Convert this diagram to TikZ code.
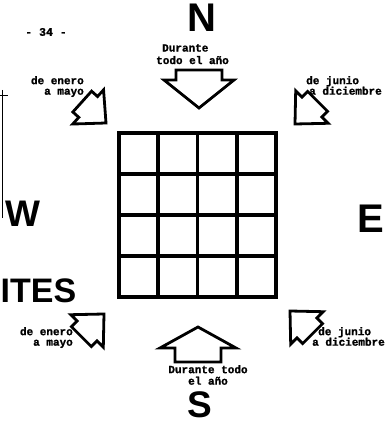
\documentclass[tikz,border=0pt]{standalone}
\usepackage{fontspec}
\setmainfont{Liberation Sans}
\newfontfamily\typefont[FakeBold=1.2]{Liberation Mono Bold}
\tikzset{
  cardinal/.style={font=\bfseries\fontsize{40}{40}\selectfont, inner sep=0pt, anchor=base},
  season/.style={font=\typefont\fontsize{11}{10.5}\selectfont, inner sep=0pt},
  gridline/.style={line width=3.6pt, line cap=rect},
  arrowline/.style={draw, line width=2.8pt, line join=miter, fill=white},
  pics/sunarrow/.style args={#1/#2/#3/#4}{code={
    \draw[arrowline] (0,0) -- (-#1,#2) -- (-#1,#3) -- (-#1-#4,#3)
      -- (-#1-#4,-#3) -- (-#1,-#3) -- (-#1,-#2) -- cycle;
  }},
}
\begin{document}
\begin{tikzpicture}[x=1pt,y=1pt]
  \useasboundingbox (0,0) rectangle (386,421);
  % grid of the plot
  \foreach \i in {0,...,4} {
    \draw[gridline] ({119+\i*39.25},124) -- ({119+\i*39.25},288);
    \draw[gridline] (119,{124+\i*41}) -- (276,{124+\i*41});
  }
  % arrows
  \pic[rotate=-90] at (199,313) {sunarrow=28/35/23/10};
  \pic[rotate=90] at (198,94) {sunarrow=21/38/23/14};
  \pic[rotate=-42] at (106,298) {sunarrow=24/23/14/8};
  \pic[rotate=-135] at (295,297) {sunarrow=24/23/14/8};
  \pic[rotate=45] at (104,107) {sunarrow=24/23/14/8};
  \pic[rotate=135] at (290,110) {sunarrow=24/23/14/8};
  % cardinal points
  \node[cardinal] (N) at (201.5,389) {N};
  \node[cardinal] (E) at (370.5,188) {E};
  \node[cardinal, font=\bfseries\fontsize{37}{37}\selectfont] (W) at (22.5,194) {W};
  \node[cardinal, font=\bfseries\fontsize{37}{37}\selectfont] (S) at (200,3.5) {S};
  \node[cardinal, anchor=base west, font=\bfseries\fontsize{34}{34}\selectfont] (ites) at (0.5,118) {ITES};
  % labels
  \node[season, font=\typefont\fontsize{11.5}{11}\selectfont] (page) at (46,389) {- 34 -};
  \node[season, align=left, anchor=north west, font=\typefont\fontsize{11}{12.5}\selectfont]
    (durN) at (156,377) {\hspace*{6pt}Durante\\todo el año};
  \node[season, align=center, anchor=north, font=\typefont\fontsize{11}{11.5}\selectfont]
    (durS) at (208,56) {Durante todo\\el año};
  \node[season, align=right, anchor=north east] (eneN) at (84,345) {de enero\\a mayo};
  \node[season, align=left, anchor=north west] (junN) at (306,345) {de junio\\\hspace*{3pt}a diciembre};
  \node[season, align=right, anchor=north east] (eneS) at (73,94) {de enero\\a mayo};
  \node[season, align=left, anchor=north west] (junS) at (312,94) {\hspace*{6pt}de junio\\a diciembre};
  % page edge
  \draw[line width=0.8pt] (2.5,331) -- (2.5,203);
  \draw[line width=0.8pt] (0,326) -- (8,326);
\end{tikzpicture}
\end{document}
